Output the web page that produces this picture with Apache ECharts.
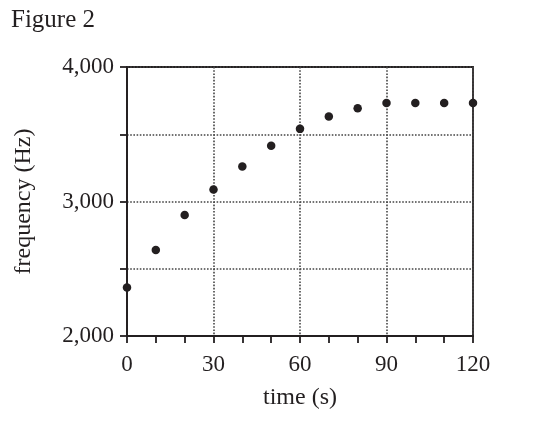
<!DOCTYPE html>
<html>
<head>
<meta charset="utf-8">
<script src="https://cdn.jsdelivr.net/npm/echarts@6/dist/echarts.min.js"></script>
<style>
  html, body { margin: 0; padding: 0; background: #fff; }
  #chart { width: 549px; height: 424px; }
</style>
</head>
<body>
<div id="chart"></div>
<script>
// readings taken off the figure
const times = [0, 10, 20, 30, 40, 50, 60, 70, 80, 90, 100, 110, 120];
const freqs = [2360, 2640, 2900, 3090, 3260, 3415, 3540, 3632, 3694, 3732, 3732, 3732, 3732];

const ink = '#231f20';
const serif = '"Liberation Serif", "DejaVu Serif", serif';

const chart = echarts.init(document.getElementById('chart'));

const option = {
  animation: false,
  backgroundColor: '#fff',
  title: {
    text: 'Figure 2',
    left: 6,
    top: 3,
    textStyle: { fontFamily: serif, fontSize: 25, fontWeight: 'normal', color: ink }
  },
  grid: {
    left: 127, right: 76, top: 67, bottom: 88,
    show: true, borderColor: ink, borderWidth: 1.8
  },
  xAxis: {
    type: 'value',
    min: 0, max: 120, interval: 30,
    name: 'time (s)',
    nameLocation: 'middle',
    nameGap: 50,
    nameTextStyle: { fontFamily: serif, fontSize: 24, color: ink },
    axisLine: { lineStyle: { color: ink, width: 1.8 } },
    axisTick: { length: 7, lineStyle: { color: ink, width: 1.8 } },
    minorTick: { show: true, splitNumber: 3, length: 7, lineStyle: { color: ink, width: 1.8 } },
    axisLabel: { fontFamily: serif, fontSize: 23, color: ink, margin: 17 },
    splitLine: { lineStyle: { color: '#444', type: 'dotted', width: 1.6 } }
  },
  yAxis: {
    type: 'value',
    min: 2000, max: 4000, interval: 500,
    name: 'frequency (Hz)',
    nameLocation: 'middle',
    nameGap: 91,
    nameTextStyle: { fontFamily: serif, fontSize: 24, color: ink },
    axisLine: { show: true, lineStyle: { color: ink, width: 1.8 } },
    axisTick: { show: true, length: 7, lineStyle: { color: ink, width: 1.8 } },
    axisLabel: {
      fontFamily: serif, fontSize: 23, color: ink, margin: 13,
      formatter: v => (v % 1000 === 0 ? v.toLocaleString('en-US') : '')
    },
    splitLine: { lineStyle: { color: '#444', type: 'dotted', width: 1.6 } }
  },
  series: [{
    type: 'scatter',
    data: times.map((t, i) => [t, freqs[i]]),
    symbolSize: 8.5,
    itemStyle: { color: ink, opacity: 1 },
    clip: false
  }]
};

chart.setOption(option);
</script>
</body>
</html>
